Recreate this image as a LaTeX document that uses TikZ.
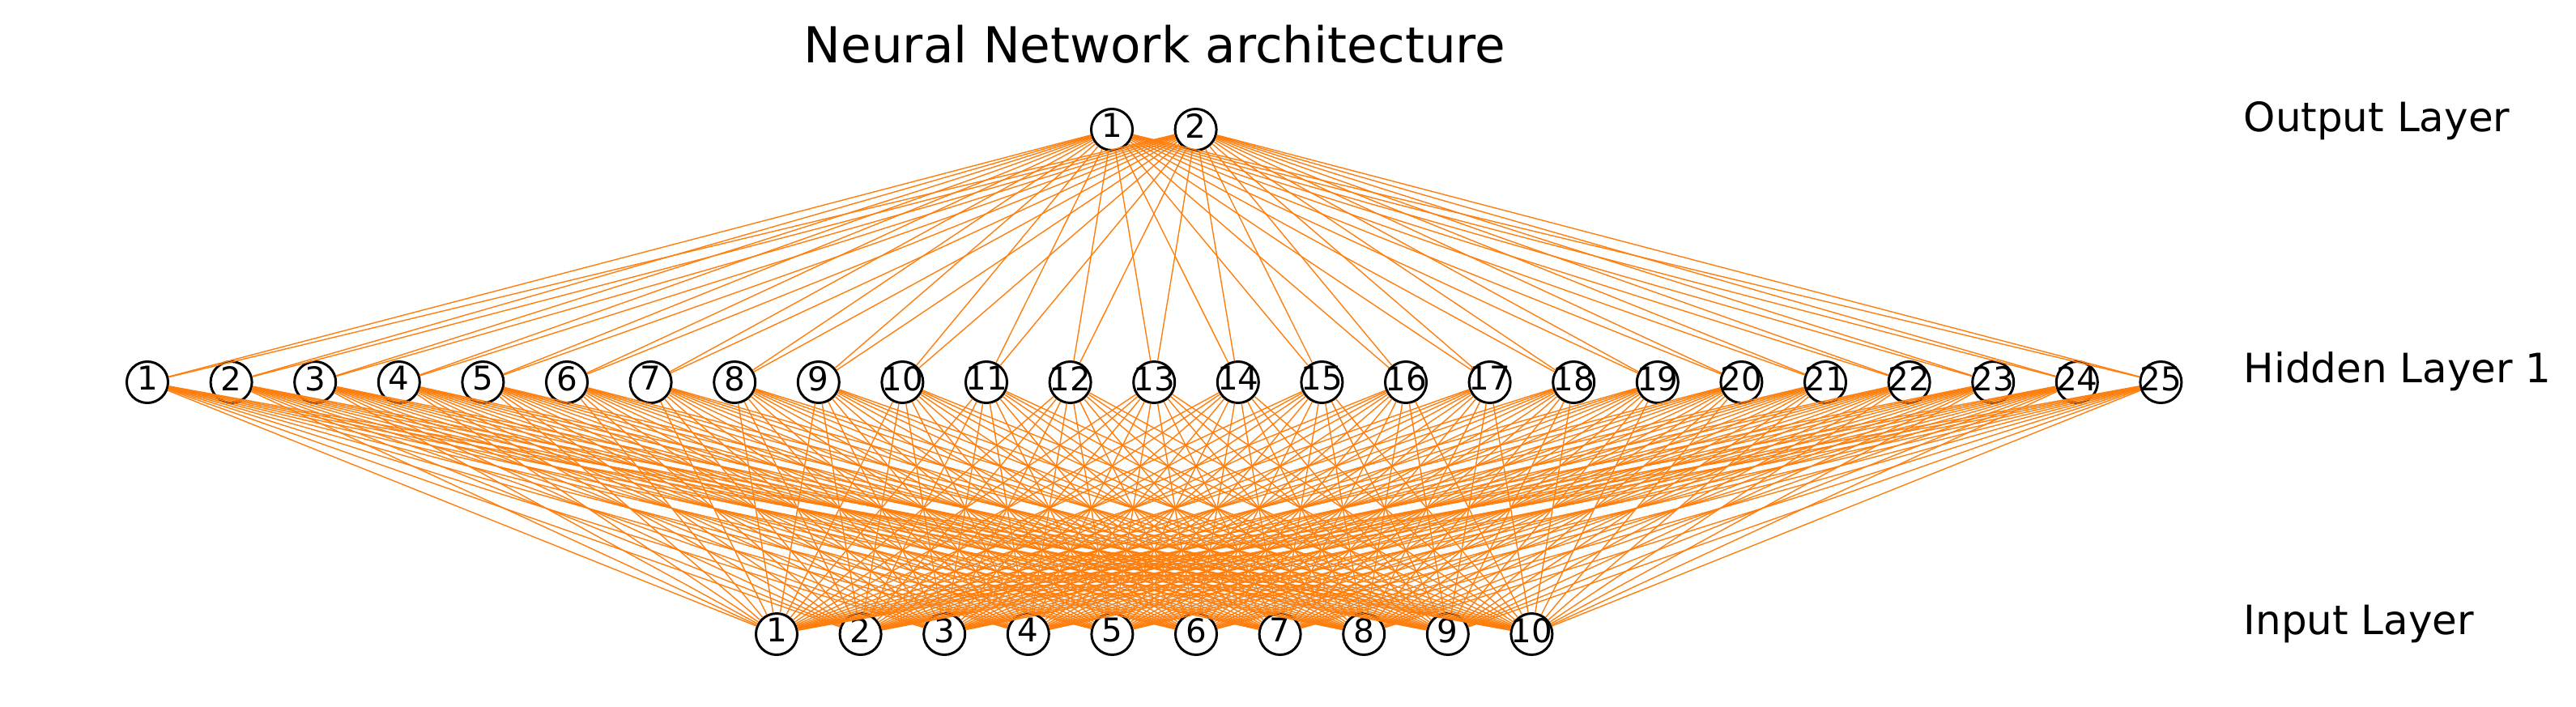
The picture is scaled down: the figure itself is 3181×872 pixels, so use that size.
\documentclass[tikz,border=0pt]{standalone}
\usepackage{fontspec}
\setmainfont{DejaVu Sans}
\definecolor{taborange}{HTML}{FF7F0E}
\newcommand{\nlab}[1]{\makebox[0pt]{#1}}
\begin{document}
\begin{tikzpicture}[x=0.01cm,y=-0.01cm,
  neuron/.style={circle,draw=black,line width=0.85pt,fill=white,minimum size=0.51cm,inner sep=0pt,text depth=0.1cm,font=\fontsize{11.5}{12}\selectfont},
  conn/.style={draw=taborange,line width=0.4pt},
  layerlabel/.style={anchor=base west,inner sep=0pt,font=\fontsize{14.2}{16}\selectfont},
  titlestyle/.style={anchor=base,inner sep=0pt,font=\fontsize{17.4}{20}\selectfont}]
\useasboundingbox (0,0) rectangle (3181,872);
\node[titlestyle] (title) at (1426,77) {Neural Network architecture};
\foreach \i in {1,...,25} \node[neuron] (h\i) at ({182+(\i-1)*103.6},472) {\nlab{\i}};
\foreach \i in {1,...,10} \node[neuron] (in\i) at ({959+(\i-1)*103.6},783) {\nlab{\i}};
\foreach \i in {1,2} \node[neuron] (o\i) at ({1373+(\i-1)*103.6},160) {\nlab{\i}};
\foreach \h in {1,...,25}{
  \foreach \i in {1,...,10} \draw[conn] (h\h) -- (in\i);
  \foreach \o in {1,2} \draw[conn] (h\h) -- (o\o);
}
\node[layerlabel] (lout) at (2770,162) {Output Layer};
\node[layerlabel] (lhid) at (2770,472) {Hidden Layer 1};
\node[layerlabel] (linp) at (2770,783) {Input Layer};
\end{tikzpicture}
\end{document}
